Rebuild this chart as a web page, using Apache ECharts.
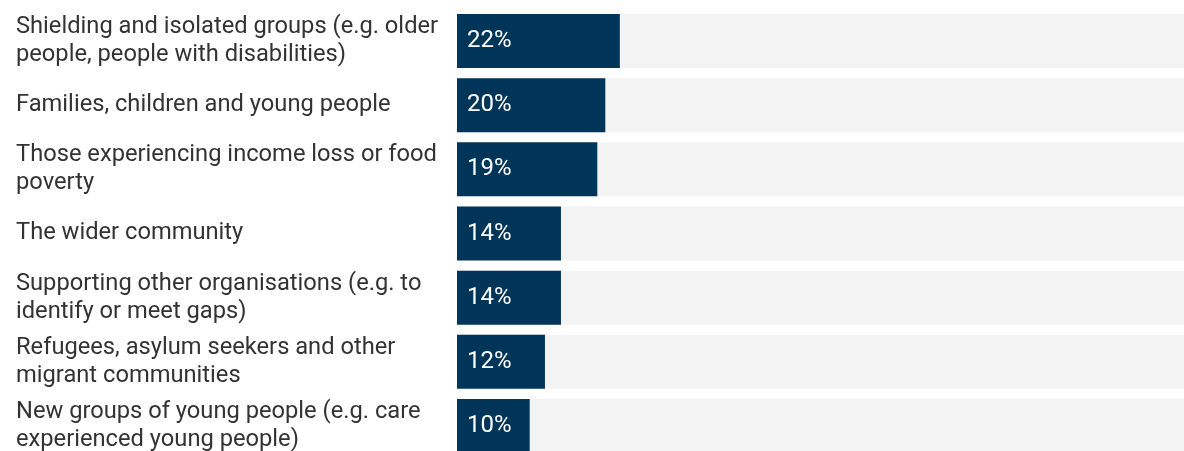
<!DOCTYPE html>
<html>
<head>
<meta charset="utf-8">
<script src="https://cdn.jsdelivr.net/npm/echarts@6/dist/echarts.min.js"></script>
<style>
html,body{margin:0;padding:0;background:#fff;}
#chart{width:1184px;height:451px;}
</style>
</head>
<body>
<div id="chart"></div>
<script>
const categories = [
  "Shielding and isolated groups (e.g. older\npeople, people with disabilities)",
  "Families, children and young people",
  "Those experiencing income loss or food\npoverty",
  "The wider community",
  "Supporting other organisations (e.g. to\nidentify or meet gaps)",
  "Refugees, asylum seekers and other\nmigrant communities",
  "New groups of young people (e.g. care\nexperienced young people)"
];
const values = [22.4, 20.4, 19.3, 14.3, 14.3, 12.1, 10.0];

const chart = echarts.init(document.getElementById('chart'), null, {renderer: 'canvas'});
chart.setOption({
  animation: false,
  grid: {left: 457, right: 0, top: 9, height: 449, containLabel: false, outerBoundsMode: 'none'},
  xAxis: {
    type: 'value', min: 0, max: 100,
    show: false
  },
  yAxis: {
    type: 'category', data: categories, inverse: true,
    axisLine: {show: false}, axisTick: {show: false}, splitLine: {show: false},
    axisLabel: {
      align: 'left', margin: 441,
      fontFamily: 'Roboto', fontSize: 23.7, lineHeight: 28, color: '#333333'
    }
  },
  series: [{
    type: 'bar', data: values, barWidth: 54,
    itemStyle: {color: '#00355A'},
    showBackground: true,
    backgroundStyle: {color: '#F3F3F3'},
    label: {
      show: true, position: 'insideLeft', distance: 10,
      color: '#ffffff', fontFamily: 'Roboto', fontSize: 24,
      formatter: p => Math.round(p.value) + '%'
    }
  }]
});
</script>
</body>
</html>
